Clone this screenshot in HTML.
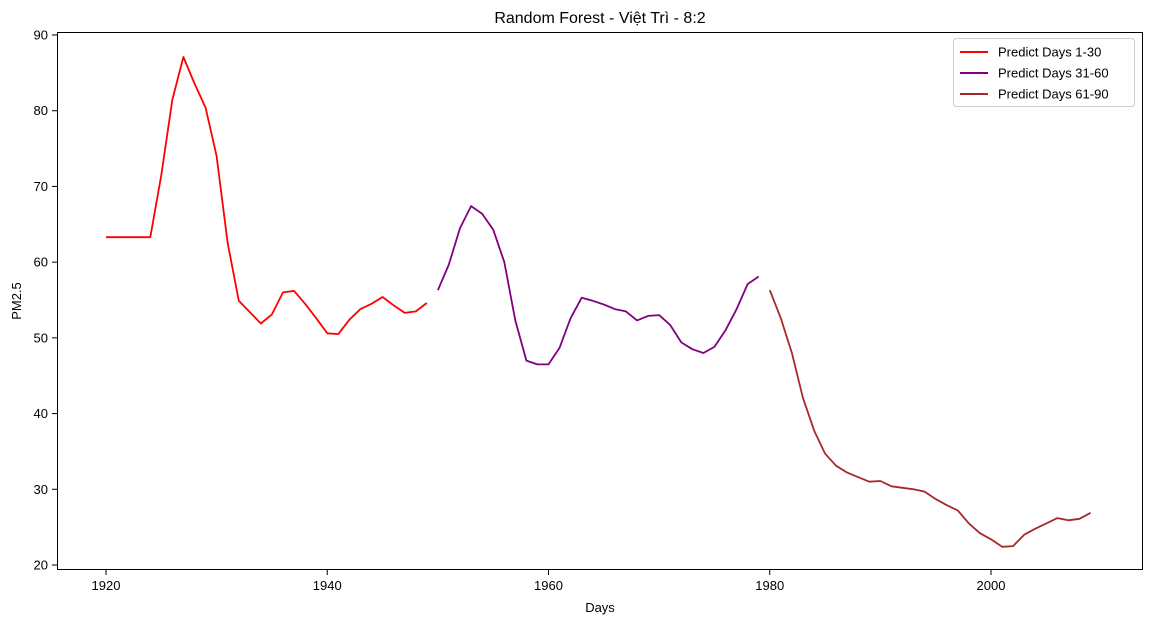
<!DOCTYPE html>
<html><head><meta charset="utf-8"><style>
body{margin:0;background:#fff;font-family:"Liberation Sans","DejaVu Sans",sans-serif;}
svg text{font-family:"Liberation Sans","DejaVu Sans",sans-serif;fill:#000;}
</style></head><body>
<svg id="chart" width="1151" height="624" xmlns="http://www.w3.org/2000/svg">
<rect x="0" y="0" width="1151" height="624" fill="#fff"/>
<text x="600" y="23" font-size="16" text-anchor="middle">Random Forest - Việt Trì - 8:2</text>
<rect x="57.5" y="32.5" width="1085" height="537" fill="none" stroke="#000" stroke-width="1"/>
<g id="xticks"></g><g id="yticks"></g><g id="series"></g>
<text x="600" y="612" font-size="13" text-anchor="middle">Days</text>
<text x="21" y="301" font-size="13" text-anchor="middle" transform="rotate(-90 21 301)">PM2.5</text>
<g>
<rect x="953.5" y="38.5" width="181" height="68" rx="3" fill="#fff" stroke="#ccc"/>
<g id="legend-items"></g>
</g>
</svg>
<script>
const xTicks=[1920,1940,1960,1980,2000];
const yTicks=[20,30,40,50,60,70,80,90];
const s1Start=1920, s2Start=1950, s3Start=1980;
const s1=[63.3,63.3,63.3,63.3,63.3,71.5,81.5,87.1,83.6,80.4,74,62.5,54.9,53.4,51.9,53.1,56,56.2,54.5,52.6,50.6,50.5,52.4,53.8,54.5,55.4,54.3,53.3,53.5,54.6];
const s2=[56.3,59.7,64.5,67.4,66.4,64.3,60,52.3,47,46.5,46.5,48.7,52.6,55.3,54.9,54.4,53.8,53.5,52.3,52.9,53,51.7,49.4,48.5,48,48.8,51,53.8,57.1,58.1];
const s3=[56.3,52.6,48,42.1,37.8,34.7,33.1,32.2,31.6,31,31.1,30.4,30.2,30,29.7,28.7,27.9,27.2,25.5,24.2,23.4,22.4,22.5,24,24.8,25.5,26.2,25.9,26.1,26.9];
const names=["Predict Days 1-30","Predict Days 31-60","Predict Days 61-90"];
const colors=["#ff0000","#800080","#a52a2a"];
const NS="http://www.w3.org/2000/svg";
const X=d=>106+(d-1920)*885/80;
const Y=v=>565-(v-20)*530/70;
function mk(tag,attrs,parent){const e=document.createElementNS(NS,tag);for(const k in attrs)e.setAttribute(k,attrs[k]);parent.appendChild(e);return e;}
const xg=document.getElementById('xticks');
xTicks.forEach(t=>{
 const l=mk('line',{x1:X(t),x2:X(t),y1:570,y2:575,stroke:'#000'},xg);
 
 
 const tx=mk('text',{x:X(t),y:590,'font-size':13,'text-anchor':'middle'},xg);tx.textContent=t;
 
 
});
const yg=document.getElementById('yticks');
yTicks.forEach(t=>{
 const l=mk('line',{x1:52,x2:57,y1:Y(t),y2:Y(t),stroke:'#000'},yg);
 
 
 const tx=mk('text',{x:48,y:Y(t)+4.5,'font-size':13,'text-anchor':'end'},yg);tx.textContent=t;
 
 
});
const sg=document.getElementById('series');
[[s1,s1Start],[s2,s2Start],[s3,s3Start]].forEach((p,i)=>{
 const pts=p[0].map((v,k)=>X(p[1]+k).toFixed(1)+','+Y(v).toFixed(1)).join(' ');
 const pl=mk('polyline',{points:pts,fill:'none',stroke:colors[i],'stroke-width':1.8,'stroke-linejoin':'round'},sg);
 
 
});
const lg=document.getElementById('legend-items');
names.forEach((n,i)=>{
 const y=52+i*21;
 const l=mk('line',{x1:960,x2:988,y1:y,y2:y,stroke:colors[i],'stroke-width':2},lg);
 
 
 const t=mk('text',{x:998,y:y+4.5,'font-size':13},lg);t.textContent=n;
 
 
});
</script>
</body></html>
